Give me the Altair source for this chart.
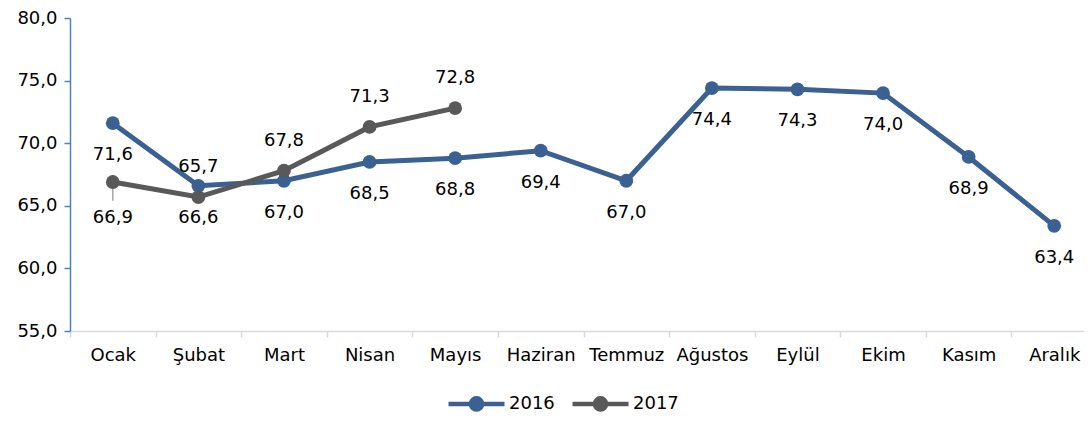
import altair as alt
import pandas as pd

months = ["Ocak", "Şubat", "Mart", "Nisan", "Mayıs", "Haziran", "Temmuz",
          "Ağustos", "Eylül", "Ekim", "Kasım", "Aralık"]
v2016 = [71.6, 66.6, 67.0, 68.5, 68.8, 69.4, 67.0, 74.4, 74.3, 74.0, 68.9, 63.4]
v2017 = [66.9, 65.7, 67.8, 71.3, 72.8]
years = ["2016", "2017"]
colors = ["#3A6191", "#595959"]

rows = []
for m, v in zip(months, v2016):
    rows.append({"ay": m, "yil": "2016", "deger": v, "konum": "alt"})
for i, (m, v) in enumerate(zip(months, v2017)):
    rows.append({"ay": m, "yil": "2017", "deger": v, "konum": "alt2" if i == 0 else "ust"})
df = pd.DataFrame(rows)

FONT = "DejaVu Sans"
x = alt.X("ay:N", sort=months, title=None,
          scale=alt.Scale(paddingInner=0, paddingOuter=0, range=[0, 1027]),
          axis=alt.Axis(labelAngle=0, labelFontSize=18, labelColor="#000000",
                        labelFont=FONT, tickBand="extent", tickSize=6,
                        tickColor="#D9D9D9", tickWidth=1.5,
                        domainColor="#D9D9D9", domainWidth=1.5,
                        labelPadding=9, grid=False))
y = alt.Y("deger:Q", title=None,
          scale=alt.Scale(domain=[55, 80], nice=False, zero=False),
          axis=alt.Axis(values=[55, 60, 65, 70, 75, 80], labelFontSize=18,
                        labelColor="#000000", labelFont=FONT,
                        labelExpr="replace(format(datum.value, '.1f'), '.', ',')",
                        tickSize=6, tickColor="#4F81BD", tickWidth=1.5,
                        domainColor="#4F81BD", domainWidth=1.5,
                        labelPadding=7, grid=False))

sym = "M-1,0L1,0M0.2,0A0.2,0.2,0,1,1,-0.2,0A0.2,0.2,0,1,1,0.2,0Z"
legend = alt.Legend(title=None, orient="none", direction="horizontal",
                    legendX=376, legendY=355, symbolType=sym, symbolSize=3136,
                    symbolStrokeWidth=4.5, labelFontSize=18, labelFont=FONT,
                    labelColor="#000000", labelOffset=2, columnPadding=8,
                    padding=0)

color_scale = alt.Scale(domain=years, range=colors)

base = alt.Chart(df)

lines = base.mark_line(strokeWidth=5).encode(
    x=x, y=y,
    stroke=alt.Stroke("yil:N", scale=color_scale, legend=legend),
)
points = base.mark_point(filled=True, size=190, opacity=1).encode(
    x=x, y=y,
    fill=alt.Fill("yil:N", scale=color_scale, legend=legend),
)

leader = base.transform_filter("datum.konum == 'alt2'").transform_calculate(
    alt_uc="datum.deger - 1.5"
).mark_rule(color="#A6A6A6", strokeWidth=1.5).encode(
    x=x, y=y, y2="alt_uc:Q"
)

lbl_expr = "replace(format(datum.deger, '.1f'), '.', ',')"
text_common = dict(fontSize=18, font=FONT, color="#000000", baseline="middle")

lbl_below = base.transform_filter("datum.konum == 'alt'").transform_calculate(
    etiket=lbl_expr).mark_text(dy=32, **text_common).encode(x=x, y=y, text="etiket:N")
lbl_below2 = base.transform_filter("datum.konum == 'alt2'").transform_calculate(
    etiket=lbl_expr).mark_text(dy=36, **text_common).encode(x=x, y=y, text="etiket:N")
lbl_above = base.transform_filter("datum.konum == 'ust'").transform_calculate(
    etiket=lbl_expr).mark_text(dy=-30, **text_common).encode(x=x, y=y, text="etiket:N")

chart = alt.layer(leader, lines, points, lbl_below, lbl_below2, lbl_above).properties(
    width=1014, height=313,
    autosize=alt.AutoSizeParams(type="none"),
    padding={"left": 62, "top": 10, "right": 0, "bottom": 82},
).configure(background="white").configure_view(stroke=None)

chart.save("out.html", embed_options={"renderer": "svg", "actions": False})
